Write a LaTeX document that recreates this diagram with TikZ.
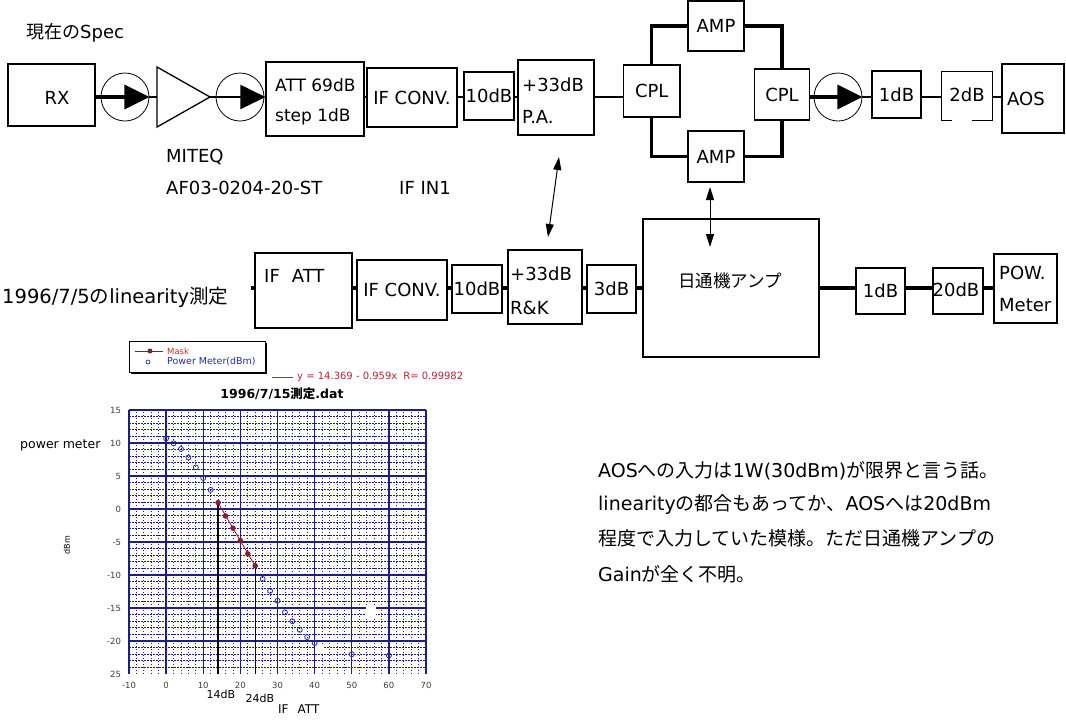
\documentclass[tikz,border=0pt]{standalone}
\usepackage{fontspec}
\setmainfont{DejaVu Sans}
\newfontfamily\cjk{Noto Sans CJK JP}
\usetikzlibrary{arrows.meta,calc}
\newcommand\fsz[1]{\fontsize{#1}{#1}\selectfont}
\definecolor{gridc}{RGB}{30,30,130}
\definecolor{maskc}{RGB}{140,25,55}
\definecolor{maskt}{RGB}{200,45,45}
\definecolor{pmc}{RGB}{40,40,170}
\definecolor{regc}{RGB}{175,40,55}
\begin{document}
\begin{tikzpicture}[x=1pt,y=-1pt,
 box/.style={draw,line width=1.1pt,inner sep=0pt,font=\fsz{18}},
 lbl/.style={inner sep=0pt,font=\fsz{18}},
 w1/.style={line width=1.4pt},
 w2/.style={line width=2pt},
 w3/.style={line width=3.2pt,line join=miter},
 bigtip/.style={-{Triangle[length=25pt,width=24pt]}},
 dbl/.style={line width=1pt,{Triangle[length=13pt,width=8pt]}-{Triangle[length=13pt,width=8pt]}},
 iso/.style={draw,circle,line width=0.8pt,minimum size=48pt,inner sep=0pt},
 minor/.style={gridc,line width=0.8pt,dash pattern=on 1.5pt off 1.5pt},
 major/.style={gridc,line width=1.3pt},
 tick/.style={inner sep=0pt,font=\fsz{8.5},text=black!75}
]
\useasboundingbox (0,0) rectangle (1066,721);
\fill[white] (0,0) rectangle (1066,721);

% ---------- top row ----------
\node[lbl,anchor=west] (spec) at (26,33) {{\cjk 現在の}Spec};
\coordinate (yt) at (0,97);
\node[box,minimum width=87pt,minimum height=62pt] (rx) at (51.5,95) {};
\node[lbl] (rxt) at (57,98) {RX};
\node[iso] (c1) at (125,97) {};
\node[iso] (c2) at (240,97) {};
\coordinate (triW) at (157,97);
\coordinate (triE) at (210,97);
\draw[line width=1.3pt,line join=miter] (157,67) -- (triE) -- (157,127) -- cycle;
\node[box,minimum width=98pt,minimum height=74pt] (att) at (315,99) {};
\node[lbl,anchor=west,font=\fsz{17}] (att1) at (275,85) {ATT 69dB};
\node[lbl,anchor=west,font=\fsz{17}] (att2) at (275,117) {step 1dB};
\node[box,minimum width=90pt,minimum height=59pt] (ifc) at (412,97.5) {IF CONV.};
\node[box,minimum width=50pt,minimum height=48pt] (db10) at (489,96) {10dB};
\node[box,minimum width=76pt,minimum height=75pt] (pa) at (556,97.5) {};
\node[lbl,anchor=west] (pa1) at (522,85) {+33dB};
\node[lbl,anchor=west] (pa2) at (522,117) {P.A.};
\node[box,minimum width=56.5pt,minimum height=52pt] (cpl1) at (651.75,91) {CPL};
\node[box,minimum width=56pt,minimum height=50pt] (ampT) at (716,26) {AMP};
\node[box,minimum width=56pt,minimum height=51pt] (ampB) at (716,156.5) {AMP};
\node[box,minimum width=55.5pt,minimum height=51pt] (cpl2) at (782,94.5) {CPL};
\node[iso] (c3) at (838,97) {};
\node[box,minimum width=49pt,minimum height=47pt] (db1) at (896.5,94.5) {1dB};
\node[inner sep=0pt,minimum width=50pt,minimum height=48pt] (db2) at (967,96) {};
\node[lbl] (db2t) at (967,95) {2dB};
\draw[line width=1.1pt] ($(db2.south west)+(10,0)$) -- (db2.south west) -- (db2.north west) -- (db2.north east) -- (db2.south east) -- ++(-20,0);
\node[box,minimum width=62pt,minimum height=69pt] (aos) at (1033,98.5) {};
\node[lbl,anchor=west] (aost) at (1007,99) {AOS};

\draw[w3,bigtip] (rx.east |- yt) -- (c1.east);
\draw[w2] (c1.east) -- (triW);
\draw[w2,bigtip] (triE) -- (att.west |- yt);
\draw[w1] (att.east |- yt) -- (ifc.west |- yt);
\draw[w1] (ifc.east |- yt) -- (db10.west |- yt);
\draw[w1] (db10.east |- yt) -- (pa.west |- yt);
\draw[w1] (pa.east |- yt) -- (cpl1.west |- yt);
\draw[w3] (cpl1.north) |- (ampT.west);
\draw[w3] (ampT.east) -| (cpl2.north);
\draw[w3] (cpl1.south) |- (ampB.west);
\draw[w3] (ampB.east) -| (cpl2.south);
\draw[w3,bigtip] (cpl2.east |- yt) -- (c3.east);
\draw[w2] (c3.east) -- (db1.west |- yt);
\draw[w2] (db1.east |- yt) -- (db2.west |- yt);
\draw[w2] (db2.east |- yt) -- (aos.west |- yt);

\node[lbl,anchor=west] (miteq) at (166,157) {MITEQ};
\node[lbl,anchor=west] (af) at (166,188) {AF03-0204-20-ST};
\node[lbl,anchor=west] (ifin) at (399,188) {IF IN1};

\coordinate (a1t) at (559,157);
\coordinate (a1b) at (548,237);
\draw[dbl] (a1t) -- (a1b);
\coordinate (a2t) at (710,187);
\coordinate (a2b) at (710,247);
\draw[dbl] (a2t) -- (a2b);

% ---------- bottom row ----------
\coordinate (yb) at (0,288);
\node[lbl,anchor=west,font=\fsz{19.5}] (lin) at (2,297) {1996/7/5{\cjk の}linearity{\cjk 測定}};
\node[box,minimum width=97pt,minimum height=75pt] (ifatt) at (303.5,290.5) {};
\node[lbl,anchor=west] (ifattt) at (264,276) {IF\hspace{12pt}ATT};
\coordinate (stub) at (251,288);
\node[box,minimum width=90pt,minimum height=60pt] (ifc2) at (402,290) {IF CONV.};
\node[box,minimum width=50pt,minimum height=48pt] (db10b) at (477,289) {10dB};
\node[box,minimum width=74pt,minimum height=74pt] (rk) at (545,287) {};
\node[lbl,anchor=west] (rk1) at (510,274) {+33dB};
\node[lbl,anchor=west] (rk2) at (510,308) {R\&K};
\node[box,minimum width=49pt,minimum height=48pt] (db3) at (611.5,289) {3dB};
\node[box,minimum width=176pt,minimum height=138pt] (nitsu) at (731,288) {};
\node[lbl,font=\cjk\fsz{17.5}] (nitsut) at (730,281) {日通機アンプ};
\node[box,minimum width=49pt,minimum height=46pt] (db1b) at (880.5,291) {1dB};
\node[box,minimum width=50pt,minimum height=46pt] (db20) at (958,291) {};
\node[lbl] (db20t) at (956,290) {20dB};
\node[box,minimum width=63pt,minimum height=69pt] (pow) at (1025.5,288.5) {};
\node[lbl,anchor=west] (pow1) at (999,273) {POW.};
\node[lbl,anchor=west] (pow2) at (999,305) {Meter};

\draw[w3] (stub) -- (ifatt.west |- yb);
\draw[w3] (ifatt.east |- yb) -- (ifc2.west |- yb);
\draw[w3] (ifc2.east |- yb) -- (db10b.west |- yb);
\draw[w3] (db10b.east |- yb) -- (rk.west |- yb);
\draw[w3] (rk.east |- yb) -- (db3.west |- yb);
\draw[w3] (db3.east |- yb) -- (nitsu.west |- yb);
\draw[w3] (nitsu.east |- yb) -- (db1b.west |- yb);
\draw[w3] (db1b.east |- yb) -- (db20.west |- yb);
\draw[w3] (db20.east |- yb) -- (pow.west |- yb);

% ---------- text ----------
\node[lbl,anchor=west,font=\fsz{19}] (p1) at (598,471) {AOS{\cjk への入力は}1W(30dBm){\cjk が限界と言う話。}};
\node[lbl,anchor=west,font=\fsz{19}] (p2) at (598,505) {linearity{\cjk の都合もあってか、}AOS{\cjk へは}20dBm};
\node[lbl,anchor=west,font=\cjk\fsz{19}] (p3) at (598,538) {程度で入力していた模様。ただ日通機アンプの};
\node[lbl,anchor=west,font=\fsz{19}] (p4) at (598,574) {Gain{\cjk が全く不明。}};

% ---------- graph ----------
\fill[black] (131,343) rectangle (267,374);
\node[draw,fill=white,line width=0.8pt,minimum width=136pt,minimum height=31pt,inner sep=0pt] (leg) at (197,356.5) {};
\draw[maskc,line width=1pt] (135,351) -- (163,351);
\fill[maskc] (150,351) circle[radius=2.5pt];
\node[inner sep=0pt,anchor=west,font=\fsz{8.5},text=maskt] (legm) at (167,351) {Mask};
\draw[pmc,line width=0.7pt] (148,362) circle[radius=2pt];
\node[inner sep=0pt,anchor=west,font=\fsz{9.5},text=pmc] (legp) at (167,362) {Power Meter(dBm)};
\draw[regc,line width=1pt] (272,377) -- (293,377);
\node[inner sep=0pt,anchor=west,font=\fsz{10},text=regc] (reg) at (297,377) {y = 14.369 - 0.959x\hspace{6pt}R= 0.99982};
\node[inner sep=0pt,font=\bfseries\fsz{12.5}] (title) at (282,394) {1996/7/15{\cjk 測定}.dat};
\node[inner sep=0pt,anchor=west,font=\fsz{12.5}] (pm) at (20,445) {power meter};
\node[inner sep=0pt,rotate=90,font=\fsz{8}] (dbm) at (67,545) {dBm};

\begin{scope}[shift={(166.125pt,-509pt)},x=3.7125pt,y=6.6pt]
 \foreach \v in {-10,-8,...,70} \draw[minor] (\v,-25) -- (\v,15);
 \foreach \v in {-24,...,14} \draw[minor] (-10,\v) -- (70,\v);
 \foreach \v in {-10,0,...,70} \draw[major] (\v,-25) -- (\v,15);
 \foreach \v in {-20,-15,...,15} \draw[major] (-10,\v) -- (70,\v);
 \fill[white] (40.1,-21.8) rectangle (42.3,-20.4);
 \fill[white] (53.8,-16.4) rectangle (56.5,-14.5);
 \draw[line width=1.4pt] (14,0.96) -- (14,-25);
 \draw[line width=1.4pt] (24,-8.6) -- (24,-25);
 \draw[maskc,line width=0.8pt] (14,0.94) -- (24,-8.65);
 \foreach \a/\b in {14/0.96,16/-1.06,18/-2.9,20/-4.8,22/-6.8,24/-8.6}
   \fill[maskc] (\a,\b) circle[radius=2.8pt];
 \foreach \a/\b in {0/10.7,2/9.95,4/9.1,6/7.8,8/6.3,10/4.7,12/2.9,26/-10.6,28/-12.4,30/-13.9,32/-15.65,34/-17,36/-18.3,38/-19.4,40/-20.3,50/-22,60/-22.2}
   \draw[pmc,line width=0.8pt] (\a,\b) circle[radius=2.5pt];
 \foreach \v in {15,10,5,0,-5,-10,-15,-20}
   \node[tick,anchor=east] at (-12.1,\v) {\v};
 \node[tick,anchor=east] at (-12.1,-25) {25};
 \foreach \v in {-10,0,...,70}
   \node[tick] at (\v,-26.8) {\v};
\end{scope}
\node[inner sep=0pt,font=\fsz{11}] (l14) at (221,694) {14dB};
\node[inner sep=0pt,font=\fsz{11}] (l24) at (260,698) {24dB};
\node[inner sep=0pt,anchor=west,font=\fsz{12}] (ifattl) at (278,709) {IF\hspace{9pt}ATT};
\end{tikzpicture}
\end{document}
